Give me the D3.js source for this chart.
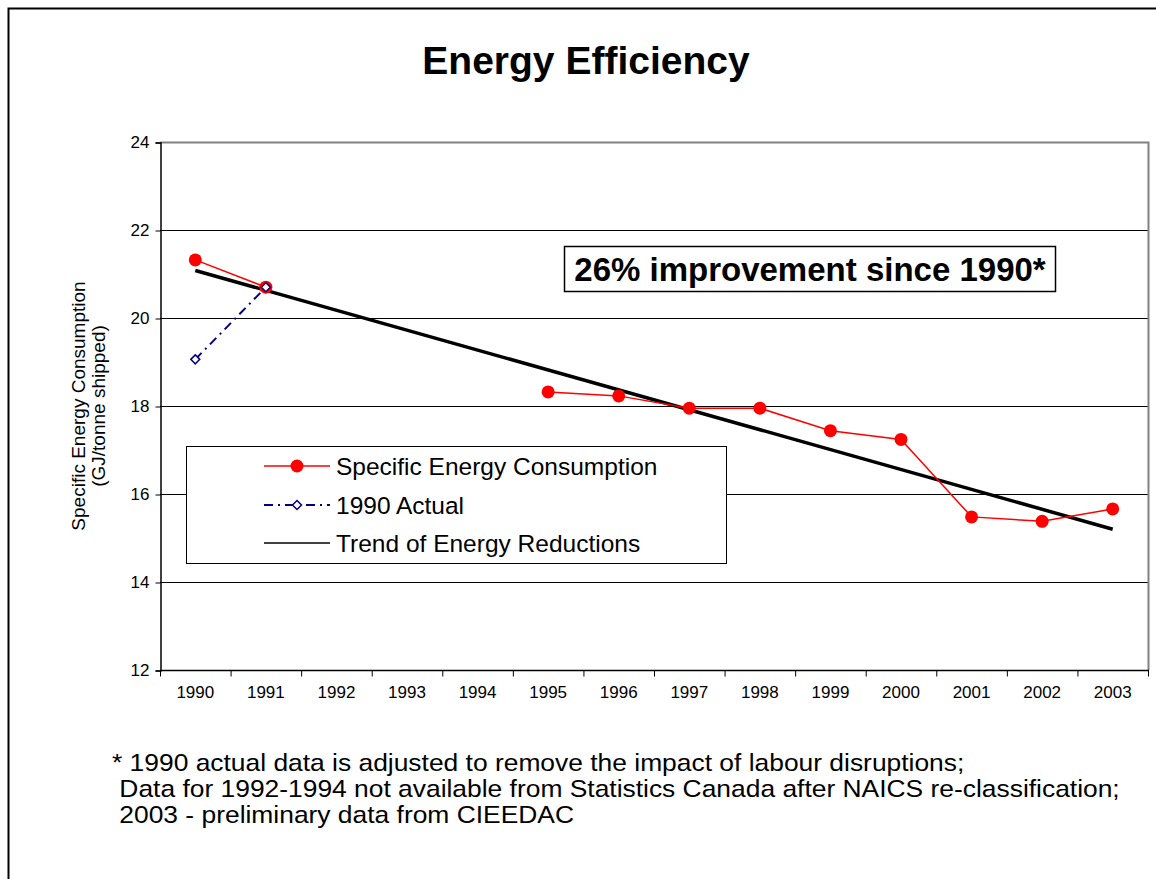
<!DOCTYPE html>
<html>
<head>
<meta charset="utf-8">
<script src="https://cdn.jsdelivr.net/npm/d3@7"></script>
<style>
  body { margin: 0; background: #fff; }
  text { font-family: "Liberation Sans", Arial, sans-serif; }
</style>
</head>
<body>
<div id="chart"></div>
<script>
// categories on the x axis
const years = ['1990', '1991', '1992', '1993', '1994', '1995', '1996', '1997', '1998', '1999', '2000', '2001', '2002', '2003'];
// Specific Energy Consumption (GJ/tonne shipped), null = no data
const specific = [21.32, 20.7, null, null, null, 18.32, 18.23, 17.95, 17.95, 17.44, 17.24, 15.48, 15.38, 15.66];
// 1990 actual (adjusted)
const actual1990 = [19.06, 20.7, null, null, null, null, null, null, null, null, null, null, null, null];
// trend line end points
const trendYears = ['1990', '2003'];
const trendValues = [21.08, 15.2];
const yTicks = [12, 14, 16, 18, 20, 22, 24];
const legendLabels = ['Specific Energy Consumption', '1990 Actual', 'Trend of Energy Reductions'];
const footnotes = [
  '* 1990 actual data is adjusted to remove the impact of labour disruptions;',
  ' Data for 1992-1994 not available from Statistics Canada after NAICS re-classification;',
  ' 2003 - preliminary data from CIEEDAC'
];

const W = 1156, H = 879;
const plot = { left: 160, top: 142, right: 1148, bottom: 670 };

const svg = d3.select('#chart').append('svg')
  .attr('width', W)
  .attr('height', H);

// outer frame (left and top edges only visible)
svg.append('path')
  .attr('d', `M8.5,${H} L8.5,8.5 L${W},8.5`)
  .attr('fill', 'none')
  .attr('stroke', '#000')
  .attr('stroke-width', 2);

svg.append('text')
  .attr('x', 586)
  .attr('y', 74)
  .attr('text-anchor', 'middle')
  .attr('font-size', 39)
  .attr('font-weight', 'bold')
  .text('Energy Efficiency');

const x = d3.scaleBand()
  .domain(years)
  .range([plot.left, plot.right]);

const y = d3.scaleLinear()
  .domain([12, 24])
  .range([plot.bottom, plot.top]);

const cx = d => x(d) + x.bandwidth() / 2;

// gridlines
svg.append('g')
  .selectAll('line')
  .data(yTicks.filter(t => t > 12 && t < 24))
  .enter().append('line')
  .attr('x1', plot.left)
  .attr('x2', plot.right)
  .attr('y1', d => y(d) + 0.5)
  .attr('y2', d => y(d) + 0.5)
  .attr('stroke', '#000')
  .attr('stroke-width', 1);

// plot area border (top/right gray)
svg.append('path')
  .attr('d', `M${plot.left},${plot.top + 0.5} L${plot.right + 0.5},${plot.top + 0.5} L${plot.right + 0.5},${plot.bottom}`)
  .attr('fill', 'none')
  .attr('stroke', '#808080')
  .attr('stroke-width', 2);

// y axis
const yAxis = svg.append('g')
  .attr('transform', `translate(${plot.left + 0.5},0.5)`)
  .call(d3.axisLeft(y).tickValues(yTicks).tickSize(5).tickPadding(6));
yAxis.select('.domain').attr('stroke', '#000').attr('stroke-width', 1.5);
yAxis.selectAll('text').attr('font-size', 17).attr('fill', '#000')
  .style('font-family', '"Liberation Sans", Arial, sans-serif');

// x axis: labels centred, ticks at band edges
const xAxis = svg.append('g')
  .attr('transform', `translate(0,${plot.bottom + 0.5})`)
  .call(d3.axisBottom(x).tickSize(0).tickPadding(15));
xAxis.select('.domain').remove();
xAxis.selectAll('text').attr('font-size', 17).attr('fill', '#000')
  .style('font-family', '"Liberation Sans", Arial, sans-serif');
xAxis.append('line')
  .attr('x1', plot.left)
  .attr('x2', plot.right + 1)
  .attr('stroke', '#000')
  .attr('stroke-width', 1.5);
xAxis.selectAll('.edge')
  .data(years.concat(['end']))
  .enter().append('line')
  .attr('class', 'edge')
  .attr('x1', d => (d === 'end' ? plot.right : x(d)) + 0.5)
  .attr('x2', d => (d === 'end' ? plot.right : x(d)) + 0.5)
  .attr('y1', 0)
  .attr('y2', 6)
  .attr('stroke', '#000')
  .attr('stroke-width', 1);

// y axis title
const yTitle = svg.append('text')
  .attr('transform', `translate(78,${(plot.top + plot.bottom) / 2}) rotate(-90)`)
  .attr('text-anchor', 'middle')
  .attr('font-size', 19);
yTitle.append('tspan').attr('x', 0).attr('dy', '0.35em').text('Specific Energy Consumption');
yTitle.append('tspan').attr('x', 0).attr('dy', 20).text('(GJ/tonne shipped)');

// trend line
const trendLine = d3.line()
  .x((d, i) => cx(trendYears[i]))
  .y(d => y(d));
svg.append('path')
  .datum(trendValues)
  .attr('d', trendLine)
  .attr('fill', 'none')
  .attr('stroke', '#000')
  .attr('stroke-width', 3.5);

const seriesLine = d3.line()
  .defined(d => d != null)
  .x((d, i) => cx(years[i]))
  .y(d => y(d));

// 1990 actual
svg.append('path')
  .datum(actual1990)
  .attr('d', seriesLine)
  .attr('fill', 'none')
  .attr('stroke', '#000080')
  .attr('stroke-width', 2)
  .attr('stroke-dasharray', '9,5,2,5');

// specific energy consumption
svg.append('path')
  .datum(specific)
  .attr('d', seriesLine)
  .attr('fill', 'none')
  .attr('stroke', '#ff0000')
  .attr('stroke-width', 1.5);

svg.append('g')
  .selectAll('circle')
  .data(specific.map((v, i) => ({ year: years[i], v: v })).filter(d => d.v != null))
  .enter().append('circle')
  .attr('cx', d => cx(d.year))
  .attr('cy', d => y(d.v))
  .attr('r', 6.5)
  .attr('fill', '#ff0000');

const diamond = (px, py, s) => `M${px},${py - s} L${px + s},${py} L${px},${py + s} L${px - s},${py} Z`;

svg.append('g')
  .selectAll('path')
  .data(actual1990.map((v, i) => ({ year: years[i], v: v })).filter(d => d.v != null))
  .enter().append('path')
  .attr('d', d => diamond(cx(d.year), y(d.v), 4.5))
  .attr('fill', '#fff')
  .attr('stroke', '#000080')
  .attr('stroke-width', 1.5);

// annotation box
svg.append('rect')
  .attr('x', 564.5)
  .attr('y', 246.5)
  .attr('width', 491)
  .attr('height', 45)
  .attr('fill', '#fff')
  .attr('stroke', '#000')
  .attr('stroke-width', 1.5);
svg.append('text')
  .attr('x', 810)
  .attr('y', 281)
  .attr('text-anchor', 'middle')
  .attr('font-size', 33)
  .attr('font-weight', 'bold')
  .text('26% improvement since 1990*');

// legend
const legend = svg.append('g');
legend.append('rect')
  .attr('x', 186.5)
  .attr('y', 446.5)
  .attr('width', 540)
  .attr('height', 117)
  .attr('fill', '#fff')
  .attr('stroke', '#000')
  .attr('stroke-width', 1);

const rowY = [466, 505, 543];
const rows = legend.selectAll('.row')
  .data(legendLabels)
  .enter().append('g')
  .attr('class', 'row')
  .attr('transform', (d, i) => `translate(0,${rowY[i]})`);

rows.append('line')
  .attr('x1', 264)
  .attr('x2', 330)
  .attr('stroke', (d, i) => ['#ff0000', '#000080', '#000'][i])
  .attr('stroke-width', (d, i) => [1.5, 2, 1.5][i])
  .attr('stroke-dasharray', (d, i) => i === 1 ? '9,5,2,5' : null);

rows.filter((d, i) => i === 0).append('circle')
  .attr('cx', 297).attr('cy', 0).attr('r', 6.5).attr('fill', '#ff0000');
rows.filter((d, i) => i === 1).append('path')
  .attr('d', diamond(297, 0, 4.5))
  .attr('fill', '#fff')
  .attr('stroke', '#000080')
  .attr('stroke-width', 1.5);

rows.append('text')
  .attr('x', 336)
  .attr('dy', '0.36em')
  .attr('font-size', 24.5)
  .text(d => d);

// footnotes (slightly condensed vertically like the original)
svg.append('g')
  .attr('transform', 'translate(112,0) scale(1.1,1)')
  .selectAll('text')
  .data(footnotes)
  .enter().append('text')
  .attr('x', 0)
  .attr('y', (d, i) => 771 + i * 26)
  .attr('font-size', 24)
  .style('white-space', 'pre')
  .text(d => d);
</script>
</body>
</html>
